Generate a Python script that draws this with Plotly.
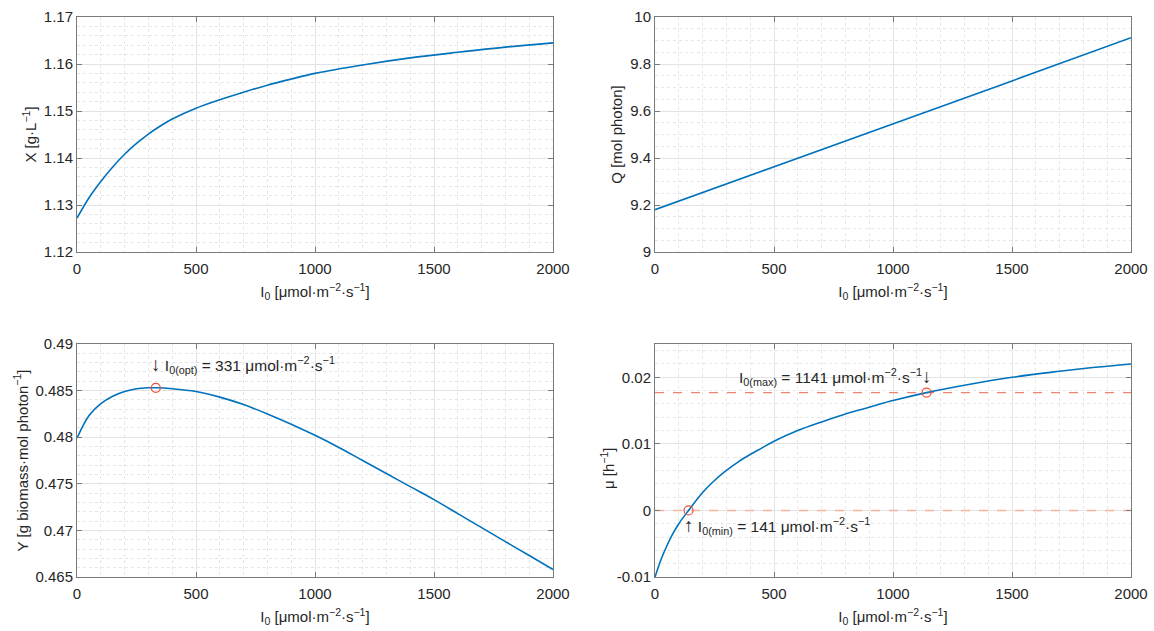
import plotly.graph_objects as go

# ---------------- data ----------------
I0_X = [0, 50, 100, 150, 200, 250, 300, 350, 400, 500, 600, 700, 800, 900, 1000,
        1200, 1400, 1600, 1800, 2000]
X_vals = [1.1272, 1.1315, 1.1350, 1.1381, 1.1408, 1.1431, 1.1451, 1.1468, 1.1483, 1.1506,
          1.1524, 1.1540, 1.1555, 1.1568, 1.1580, 1.1598, 1.1613, 1.1625, 1.1636, 1.1645]

I0_Q = [0, 500, 1000, 1500, 2000]
Q_vals = [9.180, 9.362, 9.545, 9.728, 9.912]

I0_Y = [0, 50, 100, 150, 200, 250, 300, 331, 400, 500, 600, 700, 800, 900, 1000,
        1100, 1200, 1300, 1400, 1500, 1600, 1700, 1800, 1900, 2000]
Y_vals = [0.4799, 0.4823, 0.4836, 0.4844, 0.4849, 0.4852, 0.4853, 0.4853, 0.4852,
          0.4849, 0.4843, 0.4835, 0.4825, 0.4814, 0.4802, 0.4789, 0.4775, 0.4761,
          0.4747, 0.4733, 0.4718, 0.4703, 0.4688, 0.4673, 0.4658]

I0_mu = [0, 25, 50, 75, 100, 141, 200, 250, 300, 350, 400, 450, 500, 600, 700, 800,
         900, 1000, 1141, 1300, 1500, 1700, 1850, 2000]
mu_vals = [-0.0100, -0.0074, -0.0053, -0.0035, -0.0020, 0.0000, 0.0027, 0.0045,
           0.0060, 0.0073, 0.0084, 0.0094, 0.0104, 0.0120, 0.0133, 0.0145, 0.0155,
           0.0165, 0.0177, 0.0188, 0.0200, 0.0209, 0.0215, 0.0220]

I0_opt, Y_opt = 331, 0.4853
I0_min, mu_min = 141, 0.0
I0_max, mu_max = 1141, 0.0177
mu_lines = [0.0177, 0.0]

mu_tickvals = [-0.01, 0, 0.01, 0.02]
mu_ticktext = ["-0.01", "0", "0.01", "0.02"]

# ---------------- styling ----------------
BLUE = "#0072BD"
RED = "#E8503A"
FONT = "Liberation Sans, Arial, sans-serif"
TXT = "#262626"
AX = "#7a7a7a"
GRID = "#e3e3e3"
MGRID = "#e6e6e6"

W, H = 1154, 631
cols = [(77, 553), (655, 1131)]   # screen pixels
rows = [(17, 252), (344, 577)]


def xd(c):
    return [cols[c][0] / W, cols[c][1] / W]


def yd(r):
    return [1 - rows[r][1] / H, 1 - rows[r][0] / H]


fig = go.Figure()

fig.add_trace(go.Scatter(x=I0_X, y=X_vals, mode="lines", line=dict(color=BLUE, width=1.6, shape="spline"),
                         xaxis="x", yaxis="y", showlegend=False))
fig.add_trace(go.Scatter(x=I0_Q, y=Q_vals, mode="lines", line=dict(color=BLUE, width=1.6),
                         xaxis="x2", yaxis="y2", showlegend=False))
fig.add_trace(go.Scatter(x=I0_Y, y=Y_vals, mode="lines", line=dict(color=BLUE, width=1.6, shape="spline"),
                         xaxis="x3", yaxis="y3", showlegend=False))
fig.add_trace(go.Scatter(x=[I0_opt], y=[Y_opt], mode="markers",
                         marker=dict(symbol="circle-open", size=9, color=RED, line=dict(width=1.2)),
                         xaxis="x3", yaxis="y3", showlegend=False))

fig.add_trace(go.Scatter(x=[0, 2000], y=[mu_lines[0], mu_lines[0]], mode="lines",
                         line=dict(color="#F08472", width=1.4, dash="dash"),
                         xaxis="x4", yaxis="y4", showlegend=False))
fig.add_trace(go.Scatter(x=[0, 2000], y=[mu_lines[1], mu_lines[1]], mode="lines",
                         line=dict(color="#F7B49C", width=1.4, dash="dash"),
                         xaxis="x4", yaxis="y4", showlegend=False))
fig.add_trace(go.Scatter(x=I0_mu, y=mu_vals, mode="lines", line=dict(color=BLUE, width=1.6, shape="spline"),
                         xaxis="x4", yaxis="y4", showlegend=False))
fig.add_trace(go.Scatter(x=[I0_min, I0_max], y=[mu_min, mu_max], mode="markers",
                         marker=dict(symbol="circle-open", size=9, color=RED, line=dict(width=1.2)),
                         xaxis="x4", yaxis="y4", showlegend=False))

xtitle = "I<sub>0</sub> [μmol·m<sup>−2</sup>·s<sup>−1</sup>]"
TF = 15


def xaxis(c, anchor):
    return dict(domain=xd(c), anchor=anchor, range=[0, 2000], dtick=500, tick0=0,
                automargin=False,
                showline=True, linecolor=AX, linewidth=1, mirror="allticks",
                ticks="inside", ticklen=5, tickcolor=AX, ticklabelstandoff=3,
                showgrid=True, gridcolor=GRID, gridwidth=1, zeroline=False,
                minor=dict(dtick=100, showgrid=True, griddash="dot", gridcolor=MGRID, ticks=""),
                tickfont=dict(family=FONT, size=TF, color=TXT),
                title=dict(text=xtitle, font=dict(family=FONT, size=TF, color=TXT), standoff=10))


def yaxis(r, c, anchor, rng, dtick, mdtick, title, **kw):
    d = dict(domain=yd(r), anchor=anchor, range=rng, dtick=dtick, tick0=rng[0],
             automargin=False,
             showline=True, linecolor=AX, linewidth=1, mirror="allticks",
             ticks="inside", ticklen=5, tickcolor=AX, ticklabelstandoff=0,
             showgrid=True, gridcolor=GRID, gridwidth=1, zeroline=False,
             minor=dict(dtick=mdtick, tick0=rng[0], showgrid=True, griddash="dot", gridcolor=MGRID, ticks=""),
             tickfont=dict(family=FONT, size=TF, color=TXT),
             title=dict(text=title, font=dict(family=FONT, size=TF, color=TXT), standoff=3))
    d.update(kw)
    return d


fig.update_layout(
    width=W, height=H, margin=dict(l=0, r=0, t=0, b=0, autoexpand=False),
    paper_bgcolor="white", plot_bgcolor="white",
    font=dict(family=FONT, color=TXT),
    xaxis=xaxis(0, "y"),
    yaxis=yaxis(0, 0, "x", [1.12, 1.17], 0.01, 0.002, "X [g·L<sup>−1</sup>]"),
    xaxis2=xaxis(1, "y2"),
    yaxis2=yaxis(0, 1, "x2", [9, 10], 0.2, 0.05, "Q [mol photon]"),
    xaxis3=xaxis(0, "y3"),
    yaxis3=yaxis(1, 0, "x3", [0.465, 0.49], 0.005, 0.001, "Y [g biomass·mol photon<sup>−1</sup>]"),
    xaxis4=xaxis(1, "y4"),
    yaxis4=yaxis(1, 1, "x4", [-0.01, 0.025], 0.01, 0.002, "",
                 tickmode="array", tickvals=mu_tickvals, ticktext=mu_ticktext),
)

# mu axis label sits between the tick labels, as in the reference
fig.add_annotation(x=607 / W, y=1 - 469 / H, xref="paper", yref="paper", showarrow=False,
                   text="μ [h<sup>−1</sup>]", textangle=-90, xanchor="center", yanchor="middle",
                   font=dict(family=FONT, size=TF, color=TXT))

afont = dict(family=FONT, size=15.5, color=TXT)
ARROW = '<span style="font-size:19px">{}</span>'
fig.add_annotation(x=I0_opt, y=Y_opt, xref="x3", yref="y3", showarrow=False,
                   text=ARROW.format("↓") + " I<sub>0(opt)</sub> = 331 μmol·m<sup>−2</sup>·s<sup>−1</sup>",
                   xanchor="left", yanchor="middle", xshift=-7, yshift=23, font=afont)
fig.add_annotation(x=I0_max, y=mu_max, xref="x4", yref="y4", showarrow=False,
                   text="I<sub>0(max)</sub> = 1141 μmol·m<sup>−2</sup>·s<sup>−1</sup>" + ARROW.format("↓"),
                   xanchor="right", yanchor="middle", xshift=7, yshift=16, font=afont)
fig.add_annotation(x=I0_min, y=mu_min, xref="x4", yref="y4", showarrow=False,
                   text=ARROW.format("↑") + " I<sub>0(min)</sub> = 141 μmol·m<sup>−2</sup>·s<sup>−1</sup>",
                   xanchor="left", yanchor="middle", xshift=-7, yshift=-16, font=afont)

fig.write_html("out.html")
